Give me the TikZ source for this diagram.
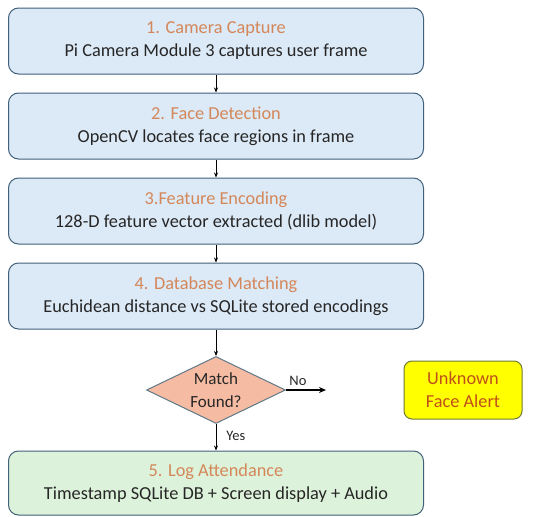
\documentclass[tikz,border=0pt]{standalone}
\usepackage{fontspec}
\setmainfont{Carlito}
\usetikzlibrary{shapes.geometric,arrows.meta}
\definecolor{boxfill}{HTML}{DCE9F6}
\definecolor{boxline}{HTML}{41607A}
\definecolor{titlecol}{HTML}{D4875A}
\definecolor{greenfill}{HTML}{DDF2DA}
\definecolor{diafill}{HTML}{F5BCA3}
\definecolor{diaedge}{HTML}{607888}
\definecolor{alertfill}{HTML}{FFFF00}
\definecolor{alertedge}{HTML}{6E7A35}
\definecolor{alerttext}{HTML}{C0501A}
\definecolor{txt}{HTML}{262626}
\tikzset{
  stepbox/.style={draw=boxline, line width=1pt, fill=boxfill, rounded corners=10pt,
    minimum width=415pt, minimum height=66pt, inner sep=0pt, align=center,
    font=\fontsize{18.3}{23}\selectfont, text=txt},
  flow/.style={-{Stealth[length=5pt,width=4pt]}, line width=0.9pt, black},
  lbl/.style={font=\fontsize{14.5}{16}\selectfont, text=txt, inner sep=1pt}
}
\begin{document}
\begin{tikzpicture}[x=1pt,y=-1pt]
\useasboundingbox (0,0) rectangle (539,517);
\node[stepbox] (s1) at (216,41) {{\color{titlecol}1. Camera Capture}\\Pi Camera Module 3 captures user frame};
\node[stepbox] (s2) at (216,126) {{\color{titlecol}2. Face Detection}\\OpenCV locates face regions in frame};
\node[stepbox] (s3) at (216,211) {{\color{titlecol}3.Feature Encoding}\\128-D feature vector extracted (dlib model)};
\node[stepbox] (s4) at (216,296) {{\color{titlecol}4. Database Matching}\\Euchidean distance vs SQLite stored encodings};
\node[diamond, draw=diaedge, line width=1pt, fill=diafill, minimum width=139pt, minimum height=67pt,
  aspect=2.07, inner sep=0pt, align=center, font=\fontsize{17}{23}\selectfont, text=txt] (d) at (216,390) {Match\\Found?};
\node[stepbox, fill=greenfill, minimum height=64pt] (s5) at (216,483) {{\color{titlecol}5. Log Attendance}\\Timestamp SQLite DB + Screen display + Audio};
\node[draw=alertedge, line width=1pt, fill=alertfill, rounded corners=8pt, minimum width=118pt, minimum height=58pt,
  align=center, inner sep=0pt, font=\fontsize{18.3}{23}\selectfont, text=alerttext] (alert) at (463,390) {Unknown\\Face Alert};
\coordinate (noend) at (326,390);
\draw[flow] (s1) -- (s2);
\draw[flow] (s2) -- (s3);
\draw[flow] (s3) -- (s4);
\draw[flow] (s4) -- (d);
\draw[flow] (d) -- node[lbl, right=9pt, pos=0.45] {Yes} (s5);
\draw[-{Stealth[length=7pt,width=6pt]}, line width=1.8pt, black] (d.east) -- node[lbl, above=3pt, pos=0.3] {No} (noend);
\end{tikzpicture}
\end{document}
